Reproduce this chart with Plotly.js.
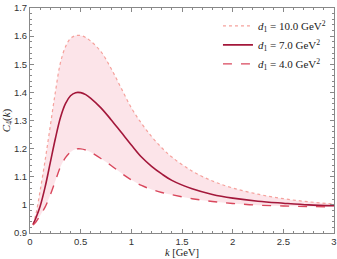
<!DOCTYPE html>
<html>
<head>
<meta charset="utf-8">
<script src="https://cdn.plot.ly/plotly-3.0.1.min.js"></script>
<style>html,body{margin:0;padding:0;background:#fff;}#chart{width:337px;height:259px;}</style>
</head>
<body>
<div id="chart"></div>
<script>
// k values [GeV] and C4(k) for the three d1 values
var kGrid = [0.03, 0.06, 0.1, 0.15, 0.2, 0.25, 0.3, 0.35, 0.4, 0.45, 0.5, 0.55, 0.6, 0.7, 0.8, 0.9, 1.0, 1.1, 1.2, 1.3, 1.4, 1.6, 1.8, 2.0, 2.25, 2.5, 2.75, 3.0];
var cTop = [0.93, 0.97, 1.05, 1.16, 1.28, 1.40, 1.505, 1.562, 1.592, 1.602, 1.602, 1.595, 1.582, 1.545, 1.485, 1.415, 1.345, 1.29, 1.243, 1.203, 1.17, 1.12, 1.085, 1.06, 1.038, 1.022, 1.011, 1.003];
var cMid = [0.93, 0.955, 0.995, 1.065, 1.15, 1.235, 1.31, 1.36, 1.388, 1.399, 1.399, 1.392, 1.379, 1.345, 1.303, 1.258, 1.213, 1.17, 1.137, 1.11, 1.087, 1.057, 1.037, 1.024, 1.013, 1.006, 1.0, 0.997];
var cLow = [0.928, 0.94, 0.962, 0.993, 1.035, 1.085, 1.135, 1.168, 1.188, 1.198, 1.199, 1.195, 1.187, 1.165, 1.14, 1.113, 1.089, 1.069, 1.055, 1.044, 1.036, 1.022, 1.012, 1.005, 0.999, 0.996, 0.994, 0.993];

var names = ["<i>d</i><sub>1</sub> = 10.0 GeV<sup>2</sup>", "<i>d</i><sub>1</sub> = 7.0 GeV<sup>2</sup>", "<i>d</i><sub>1</sub> = 4.0 GeV<sup>2</sup>"];
var xTicks = [0, 0.5, 1, 1.5, 2, 2.5, 3];
var xTickText = ["0", "0.5", "1", "1.5", "2", "2.5", "3"];
var yTicks = [0.9, 1.0, 1.1, 1.2, 1.3, 1.4, 1.5, 1.6, 1.7];
var yTickText = ["0.9", "1", "1.1", "1.2", "1.3", "1.4", "1.5", "1.6", "1.7"];

var serif = "Liberation Serif, DejaVu Serif, serif";
var sans = "Liberation Sans, Arial, sans-serif";

var traces = [
  {x: kGrid, y: cLow, mode: "lines", line: {width: 0, shape: "spline"}, showlegend: false, hoverinfo: "skip"},
  {x: kGrid, y: cTop, mode: "lines", fill: "tonexty", fillcolor: "rgba(250,205,215,0.55)",
   line: {width: 0, shape: "spline"}, showlegend: false, hoverinfo: "skip"},
  {x: kGrid, y: cTop, mode: "lines", name: names[0], line: {color: "#f5a19c", width: 1.2, dash: "dot", shape: "spline"}},
  {x: kGrid, y: cMid, mode: "lines", name: names[1], line: {color: "#a3173a", width: 1.6, shape: "spline"}},
  {x: kGrid, y: cLow, mode: "lines", name: names[2], line: {color: "#d9475c", width: 1.4, dash: "dash", shape: "spline"}}
];

var axisCommon = {
  showgrid: false, zeroline: false, showline: true, mirror: "ticks",
  linecolor: "#888", linewidth: 1, ticks: "inside", ticklen: 4, tickcolor: "#888",
  tickfont: {family: sans, size: 9.5, color: "#333"}
};

var layout = {
  width: 337, height: 259,
  margin: {l: 30, r: 3, t: 8, b: 26},
  paper_bgcolor: "#fff", plot_bgcolor: "#fff",
  showlegend: true,
  legend: {x: 0.99, y: 0.985, xanchor: "right", yanchor: "top", bgcolor: "rgba(0,0,0,0)",
           traceorder: "normal",
           font: {family: serif, size: 11, color: "#222"}, itemwidth: 30, tracegroupgap: 0},
  xaxis: Object.assign({}, axisCommon, {
    range: [0, 3], tickvals: xTicks, ticktext: xTickText,
    minor: {dtick: 0.1, ticks: "inside", ticklen: 2, tickcolor: "#888", showgrid: false},
    title: {text: "<i>k</i> [GeV]", font: {family: serif, size: 10.5, color: "#222"}, standoff: 2}
  }),
  yaxis: Object.assign({}, axisCommon, {
    range: [0.9, 1.7], tickvals: yTicks, ticktext: yTickText,
    minor: {dtick: 0.02, ticks: "inside", ticklen: 2, tickcolor: "#888", showgrid: false},
    title: {text: "<i>C</i><sub>4</sub>(<i>k</i>)", font: {family: serif, size: 11, color: "#222"}, standoff: 2}
  })
};

function showEdgeLabels() {
  document.querySelectorAll(".xtick text, .ytick text").forEach(function (el) {
    el.style.display = null;
    el.removeAttribute("display");
  });
}

var gd = document.getElementById("chart");
Plotly.newPlot(gd, traces, layout, {staticPlot: true, displayModeBar: false}).then(function () {
  showEdgeLabels();
  setTimeout(showEdgeLabels, 0);
  setTimeout(showEdgeLabels, 50);
});
gd.on && gd.on("plotly_afterplot", function () { setTimeout(showEdgeLabels, 0); });
</script>
</body>
</html>
